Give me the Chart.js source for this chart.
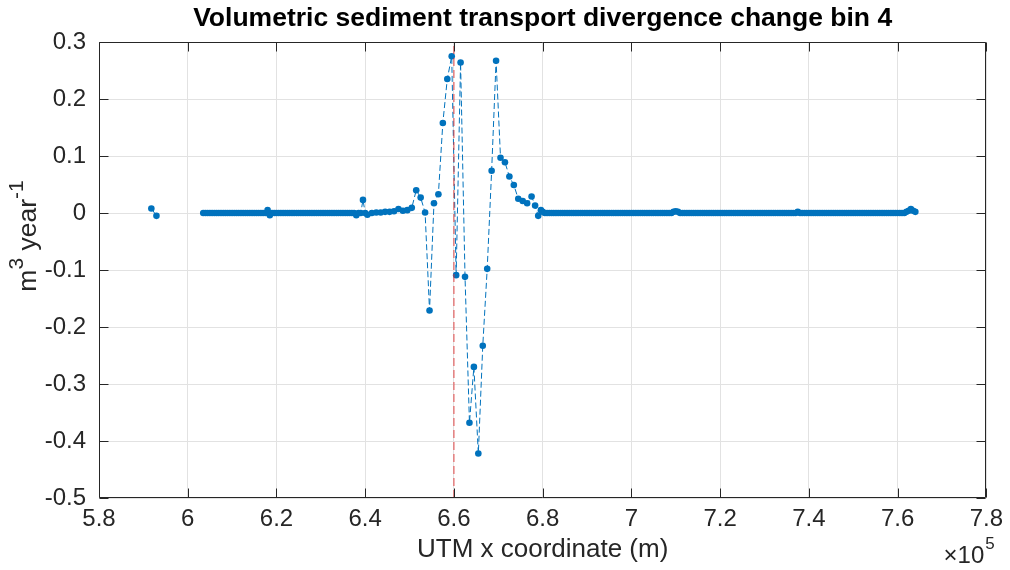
<!DOCTYPE html>
<html>
<head>
<meta charset="utf-8">
<script src="https://cdn.jsdelivr.net/npm/chart.js@4.4.1/dist/chart.umd.min.js"></script>
<style>
html,body{margin:0;padding:0;background:#ffffff;}
#wrap{width:1010px;height:570px;}
</style>
</head>
<body>
<div id="wrap"><canvas id="c" width="1010" height="570"></canvas></div>
<script>
// ---------- texts ----------
const chartTitle = 'Volumetric sediment transport divergence change bin 4';
const xAxisLabel = 'UTM x coordinate (m)';
const yLabelMain1 = 'm';
const yLabelSup1 = '3';
const yLabelMain2 = ' year';
const yLabelSup2 = '-1';
const xExpBase = '\u00d710';
const xExpSup = '5';

// ---------- axes (x in km; tick labels shown in units of 10^5 m) ----------
const xMin = 580, xMax = 780, xStep = 20;
const yMin = -0.5, yMax = 0.3, yStep = 0.1;
const refLineX = 660;

// ---------- data: UTM x (km) ----------
const xWest = [591.8, 592.95, 598];
const xFlatWest = [
603.5,604,604.5,605,605.5,606,606.5,607,607.5,608,
608.5,609,609.5,610,610.5,611,611.5,612,612.5,613,
613.5,614,614.5,615,615.5,616,616.5,617,617.5,618,
618.5,619,619.5,620,620.5,621,621.5,622,622.5,623,
623.5,624,624.5,625,625.5,626,626.5,627,627.5,628,
628.5,629,629.5,630,630.5,631,631.5,632,632.5,633,
633.5,634,634.5,635,635.5,636,636.5,637,637.5,638,
638.5,639,639.5,640,
640.5,641.5,642.5,643.5,644.5,645.5,646.5,647.5,648.5,649.5,650.5];
const xPeak = [
651.5,652.5,653.5,654.5,655.5,656.5,657.5,658.5,659.5,660.5,
661.5,662.5,663.5,664.5,665.5,666.5,667.5,668.5,669.5,670.5,
671.5,672.5,673.5,674.5,675.5,676.5,677.5,
678.3,679,679.6];
const xFlatEast = [
680,680.5,681,681.5,
682,682.5,683,683.5,684,684.5,685,685.5,686,686.5,
687,687.5,688,688.5,689,689.5,690,690.5,691,691.5,
692,692.5,693,693.5,694,694.5,695,695.5,696,696.5,
697,697.5,698,698.5,699,699.5,700,700.5,701,701.5,
702,702.5,703,703.5,704,704.5,705,705.5,706,706.5,
707,707.5,708,708.5,709,709.5,710,710.5,711,711.5,
712,712.5,713,713.5,714,714.5,715,715.5,716,716.5,
717,717.5,718,718.5,719,719.5,720,720.5,721,721.5,
722,722.5,723,723.5,724,724.5,725,725.5,726,726.5,
727,727.5,728,728.5,729,729.5,730,730.5,731,731.5,
732,732.5,733,733.5,734,734.5,735,735.5,736,736.5,
737,737.5,738,738.5,739,739.5,740,740.5,741,741.5,
742,742.5,743,743.5,744,744.5,745,745.5,746,746.5,
747,747.5,748,748.5,749,749.5,750,750.5,751,751.5,
752,752.5,753,753.5,754,754.5,755,755.5,756,756.5,
757,757.5,758,758.5,759,759.5,760,760.5,761,761.5,
762,762.5,763,763.5,764];

// ---------- data: divergence change (m^3 / year) ----------
const yWest = [0.008, -0.005, null];
const yFlatWest = [
0,0,0,0,0,0,0,0,0,0,
0,0,0,0,0,0,0,0,0,0,
0,0,0,0,0,0,0,0,0,0.005,
-0.004,0,0,0,0,0,0,0,0,0,
0,0,0,0,0,0,0,0,0,0,
0,0,0,0,0,0,0,0,0,0,
0,0,0,0,0,0,0,0,0,-0.004,
0,0,0.023,0,
-0.003,0,0.001,0.001,0.002,0.002,0.003,0.007,0.004,0.005,0.009];
const yPeak = [
0.040,0.027,0.001,-0.171,0.017,0.033,0.158,0.235,0.275,-0.109,
0.264,-0.112,-0.368,-0.270,-0.422,-0.233,-0.098,0.074,0.267,0.097,
0.089,0.064,0.049,0.025,0.021,0.017,0.029,
0.013,-0.005,0.005];
const yFlatEast = [
0.002,0,0,0,
0,0,0,0,0,0,0,0,0,0,
0,0,0,0,0,0,0,0,0,0,
0,0,0,0,0,0,0,0,0,0,
0,0,0,0,0,0,0,0,0,0,
0,0,0,0,0,0,0,0,0,0,
0,0,0,0,0,0.002,0.003,0.002,0,0,
0,0,0,0,0,0,0,0,0,0,
0,0,0,0,0,0,0,0,0,0,
0,0,0,0,0,0,0,0,0,0,
0,0,0,0,0,0,0,0,0,0,
0,0,0,0,0,0,0,0,0,0,
0,0.002,0,0,0,0,0,0,0,0,
0,0,0,0,0,0,0,0,0,0,
0,0,0,0,0,0,0,0,0,0,
0,0,0,0,0,0,0,0,0,0,
0,0,0,0,0,0,0,0,0,0,
0.002,0.004,0.007,0.004,0.002];

const xAll = xWest.concat(xFlatWest, xPeak, xFlatEast);
const yAll = yWest.concat(yFlatWest, yPeak, yFlatEast);
const seriesPoints = xAll.map((x, i) => ({x: x, y: yAll[i]}));
const refLinePoints = [{x: refLineX, y: yMin}, {x: refLineX, y: yMax}];

const FONT = "'Liberation Sans', Arial, Helvetica, sans-serif";
const AXIS_COLOR = '#262626';
const GRID_COLOR = '#e2e2e2';

Chart.defaults.font.family = FONT;

const framePlugin = {
  id: 'frame',
  afterDraw(chart) {
    const {ctx, chartArea: a, scales: {x, y}} = chart;
    const L = Math.round(a.left) + 0.5, R = Math.round(a.right) - 0.5;
    const T = Math.round(a.top) + 0.5, B = Math.round(a.bottom) - 0.5;
    ctx.save();
    ctx.strokeStyle = AXIS_COLOR;
    ctx.lineWidth = 1;
    ctx.beginPath();
    ctx.rect(L, T, R - L, B - T);
    const tl = 9;
    x.ticks.forEach(t => {
      const px = Math.round(x.getPixelForValue(t.value)) + 0.5;
      ctx.moveTo(px, B); ctx.lineTo(px, B - tl);
      ctx.moveTo(px, T); ctx.lineTo(px, T + tl);
    });
    y.ticks.forEach(t => {
      const py = Math.round(y.getPixelForValue(t.value)) + 0.5;
      ctx.moveTo(L, py); ctx.lineTo(L + tl, py);
      ctx.moveTo(R, py); ctx.lineTo(R - tl, py);
    });
    ctx.stroke();

    ctx.fillStyle = AXIS_COLOR;
    ctx.textBaseline = 'alphabetic';
    ctx.textAlign = 'left';
    const parts = [
      {t: yLabelMain1, size: 26.5, dy: 0},
      {t: yLabelSup1, size: 21, dy: -13},
      {t: yLabelMain2, size: 26.5, dy: 0},
      {t: yLabelSup2, size: 21, dy: -13}
    ];
    let total = 0;
    parts.forEach(p => { ctx.font = p.size + 'px ' + FONT; p.w = ctx.measureText(p.t).width; total += p.w; });
    ctx.save();
    ctx.translate(36, 236);
    ctx.rotate(-Math.PI / 2);
    let cx = -total / 2;
    parts.forEach(p => { ctx.font = p.size + 'px ' + FONT; ctx.fillText(p.t, cx, p.dy); cx += p.w; });
    ctx.restore();

    // x exponent label
    ctx.font = '24px ' + FONT;
    const wb = ctx.measureText(xExpBase).width;
    const xr = a.right;
    ctx.fillText(xExpBase, xr - wb - 2, 563);
    ctx.font = '17px ' + FONT;
    ctx.fillText(xExpSup, xr - 1, 549);
    ctx.restore();
  }
};

new Chart(document.getElementById('c'), {
  type: 'line',
  data: {
    datasets: [
      {
        label: 'ref',
        data: refLinePoints,
        borderColor: 'rgba(222,50,50,0.9)',
        borderWidth: 1,
        borderDash: [8, 4],
        pointRadius: 0,
        fill: false
      },
      {
        label: 'divergence',
        data: seriesPoints,
        borderColor: '#0072BD',
        backgroundColor: '#0072BD',
        borderWidth: 1,
        borderDash: [6, 3],
        pointRadius: 3.3,
        pointBorderWidth: 0,
        pointBackgroundColor: '#0072BD',
        pointHoverRadius: 3.3,
        spanGaps: false,
        tension: 0,
        fill: false
      }
    ]
  },
  options: {
    responsive: false,
    animation: false,
    devicePixelRatio: 1,
    layout: {padding: {left: 0, right: 20, top: 0, bottom: 0}},
    plugins: {
      legend: {display: false},
      tooltip: {enabled: false},
      title: {
        display: true,
        text: chartTitle,
        color: '#000000',
        fullSize: false,
        font: {size: 26.5, weight: 'bold', lineHeight: 1.2},
        padding: {top: 3, bottom: 7.2}
      }
    },
    scales: {
      x: {
        type: 'linear',
        min: xMin, max: xMax,
        ticks: {
          stepSize: xStep,
          autoSkip: false,
          maxRotation: 0,
          color: AXIS_COLOR,
          font: {size: 24},
          padding: 7,
          callback: v => String(Math.round(v / 10) / 10)
        },
        grid: {color: GRID_COLOR, drawTicks: false, lineWidth: 1},
        border: {display: false},
        title: {
          display: true,
          text: xAxisLabel,
          color: AXIS_COLOR,
          font: {size: 26},
          padding: {top: 0, bottom: 5}
        },
        afterFit(s) { s.height = 72; }
      },
      y: {
        type: 'linear',
        min: yMin, max: yMax,
        ticks: {
          stepSize: yStep,
          color: AXIS_COLOR,
          font: {size: 24},
          padding: 13,
          callback: v => String(Math.round(v * 10) / 10)
        },
        grid: {color: GRID_COLOR, drawTicks: false, lineWidth: 1},
        border: {display: false},
        afterFit(s) { s.width = 99; }
      }
    }
  },
  plugins: [framePlugin]
});
</script>
</body>
</html>
